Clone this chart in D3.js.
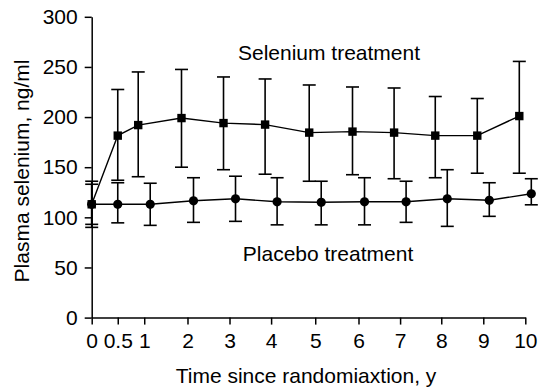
<!doctype html>
<html>
<head>
<meta charset="utf-8">
<script src="https://d3js.org/d3.v7.min.js"></script>
<style>
  body { margin: 0; background: #fff; }
  svg text { font-family: "Liberation Sans", Arial, sans-serif; fill: #000; }
  .axis path, .axis line { stroke: #000; stroke-width: 1.5; }
  .axis text { font-size: 21px; }
</style>
</head>
<body>
<script>
// time points (labels) and their plotted position along the axis, in years
var timeLabels = ["0", "0.5", "1", "2", "3", "4", "5", "6", "7", "8", "9", "10"];
var timePos = [0, 0.62, 1.25, 2.28, 3.28, 4.27, 5.32, 6.35, 7.34, 8.32, 9.32, 10.32];

// Selenium treatment: mean and error bar ends, ng/ml
var seleniumMean = [113, 181.5, 192, 199, 194, 192.5, 184.5, 185.5, 184.5, 181.5, 181.5, 201];
var seleniumHigh = [136, 227.5, 245, 247.5, 240, 238, 232, 230, 229, 220.5, 218.5, 255.5];
var seleniumLow = [90, 137, 140.5, 150, 147.5, 143, 136, 142.5, 138.5, 139.5, 144, 144];

// Placebo treatment
var placeboMean = [113, 113, 113, 116.5, 118.5, 115.5, 115, 115.5, 115.5, 118.5, 117, 123.5];
var placeboHigh = [133, 134.5, 134, 139.5, 141, 139.5, 136, 139.5, 136, 147.5, 134.5, 138.5];
var placeboLow = [93, 94.5, 92, 95, 96, 92.5, 92.5, 92.5, 95, 91, 101, 112.5];

var yTicks = [0, 50, 100, 150, 200, 250, 300];

var width = 539, height = 389;
var svg = d3.select("body").append("svg").attr("width", width).attr("height", height);

var x = d3.scaleLinear().domain([0, timePos[timePos.length - 1]]).range([91.7, 525.3]);
var y = d3.scaleLinear().domain([0, 300]).range([317.6, 16.8]);

// y axis
svg.append("g").attr("class", "axis")
  .attr("transform", "translate(" + x(0) + ",0)")
  .call(d3.axisLeft(y).tickValues(yTicks).tickSize(7).tickSizeOuter(0).tickPadding(7));

// x axis
svg.append("g").attr("class", "axis")
  .attr("transform", "translate(0," + y(0) + ")")
  .call(d3.axisBottom(x).tickValues(timePos).tickSize(7).tickSizeOuter(0).tickPadding(8)
    .tickFormat(function(d, i) { return timeLabels[i]; }));

// series, with selenium nudged left and placebo right once they separate
var dodge = 6;
var series = [
  { name: "selenium", mean: seleniumMean, hi: seleniumHigh, lo: seleniumLow, side: -1, shape: "square" },
  { name: "placebo", mean: placeboMean, hi: placeboHigh, lo: placeboLow, side: 1, shape: "circle" }
];

function px(s, i) { return x(timePos[i]) + (i >= 2 ? s.side * dodge : 0); }

series.forEach(function(s) {
  var pts = s.mean.map(function(m, i) { return { i: i, m: m, hi: s.hi[i], lo: s.lo[i] }; });
  var g = svg.append("g").attr("class", s.name);

  // error bars
  var eb = g.selectAll(".eb").data(pts).enter().append("g").attr("class", "eb");
  eb.append("line")
    .attr("x1", function(d) { return px(s, d.i); }).attr("x2", function(d) { return px(s, d.i); })
    .attr("y1", function(d) { return y(d.hi); }).attr("y2", function(d) { return y(d.lo); })
    .attr("stroke", "#000").attr("stroke-width", 1.6);
  ["hi", "lo"].forEach(function(k) {
    eb.append("line")
      .attr("x1", function(d) { return px(s, d.i) - 6.5; }).attr("x2", function(d) { return px(s, d.i) + 6.5; })
      .attr("y1", function(d) { return y(d[k]); }).attr("y2", function(d) { return y(d[k]); })
      .attr("stroke", "#000").attr("stroke-width", 1.6);
  });

  // connecting line
  var line = d3.line().x(function(d) { return px(s, d.i); }).y(function(d) { return y(d.m); });
  g.append("path").datum(pts).attr("d", line)
    .attr("fill", "none").attr("stroke", "#000").attr("stroke-width", 1.4);

  // markers
  if (s.shape == "square") {
    g.selectAll(".mk").data(pts).enter().append("rect")
      .attr("x", function(d) { return px(s, d.i) - 4.2; })
      .attr("y", function(d) { return y(d.m) - 4.2; })
      .attr("width", 8.4).attr("height", 8.4).attr("fill", "#000");
  } else {
    g.selectAll(".mk").data(pts).enter().append("circle")
      .attr("cx", function(d) { return px(s, d.i); })
      .attr("cy", function(d) { return y(d.m); })
      .attr("r", 4.6).attr("fill", "#000");
  }
});

// labels
svg.append("text").attr("x", 329).attr("y", 60).attr("text-anchor", "middle")
  .style("font-size", "21px").text("Selenium treatment");
svg.append("text").attr("x", 328).attr("y", 261).attr("text-anchor", "middle")
  .style("font-size", "21px").text("Placebo treatment");

svg.append("text").attr("x", 306).attr("y", 383).attr("text-anchor", "middle")
  .style("font-size", "21px").text("Time since randomiaxtion, y");

svg.append("text").attr("transform", "translate(29,171) rotate(-90)").attr("text-anchor", "middle")
  .style("font-size", "21px").text("Plasma selenium, ng/ml");
</script>
</body>
</html>
